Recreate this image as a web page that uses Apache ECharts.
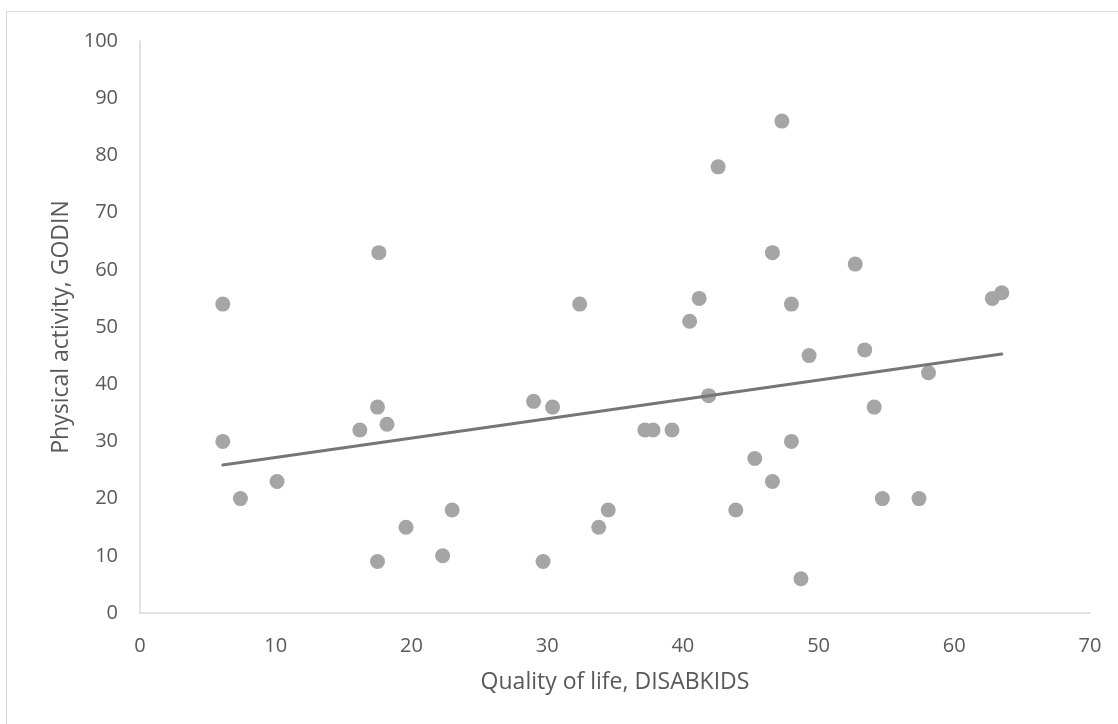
<!DOCTYPE html>
<html>
<head>
<meta charset="utf-8">
<script src="https://cdn.jsdelivr.net/npm/echarts@6/dist/echarts.min.js"></script>
<style>
  html, body { margin: 0; padding: 0; background: #fff; }
  #chart { width: 1118px; height: 724px; }
</style>
</head>
<body>
<div id="chart"></div>
<script>
// quality of life (x) vs physical activity (y)
var qolValues = [6.1, 6.1, 7.4, 10.1, 16.2, 17.5, 18.2, 17.5, 19.6, 23.0, 22.3, 29.0, 30.4, 29.7, 33.8, 34.5, 17.6, 32.4,
                 47.3, 42.6, 46.6, 52.7, 41.2, 48.0, 40.5, 62.8, 63.5, 41.9, 49.3, 53.4, 58.1, 54.1, 37.2, 37.8, 39.2,
                 48.0, 45.3, 46.6, 43.9, 54.7, 57.4, 48.7];
var godinValues = [54, 30, 20, 23, 32, 36, 33, 9, 15, 18, 10, 37, 36, 9, 15, 18, 63, 54,
                   86, 78, 63, 61, 55, 54, 51, 55, 56, 38, 45, 46, 42, 36, 32, 32, 32,
                   30, 27, 23, 18, 20, 20, 6];
var xTicks = [0, 10, 20, 30, 40, 50, 60, 70];
var yTicks = [0, 10, 20, 30, 40, 50, 60, 70, 80, 90, 100];

var points = qolValues.map(function (x, i) { return [x, godinValues[i]]; });

// linear trend line (least squares), from min x to max x like excel does
function trend(xs, ys) {
    var n = xs.length, sx = 0, sy = 0, sxx = 0, sxy = 0;
    for (var i = 0; i < n; i++) {
        sx += xs[i]; sy += ys[i]; sxx += xs[i] * xs[i]; sxy += xs[i] * ys[i];
    }
    var b = (n * sxy - sx * sy) / (n * sxx - sx * sx);
    var a = (sy - b * sx) / n;
    var lo = Math.min.apply(null, xs), hi = Math.max.apply(null, xs);
    return [[lo, a + b * lo], [hi, a + b * hi]];
}

var chart = echarts.init(document.getElementById('chart'));
var labelFont = { color: '#595959', fontSize: 20, fontFamily: 'Open Sans' };
var nameFont = { color: '#595959', fontSize: 23, fontFamily: 'Open Sans' };

var option = {
    animation: false,
    graphic: [{
        type: 'rect',
        shape: { x: 6.5, y: 11.5, width: 1140, height: 740 },
        style: { fill: 'none', stroke: '#d9d9d9', lineWidth: 1 },
        silent: true
    }],
    grid: { left: 140, right: 28, top: 41, bottom: 111 },
    xAxis: {
        type: 'value',
        min: xTicks[0],
        max: xTicks[xTicks.length - 1],
        interval: 10,
        name: 'Quality of life, DISABKIDS',
        nameLocation: 'middle',
        nameGap: 58,
        nameTextStyle: nameFont,
        axisLine: { show: true, lineStyle: { color: '#d9d9d9', width: 1.5 } },
        axisTick: { show: false },
        splitLine: { show: false },
        axisLabel: Object.assign({ margin: 23 }, labelFont)
    },
    yAxis: {
        type: 'value',
        min: yTicks[0],
        max: yTicks[yTicks.length - 1],
        interval: 10,
        name: 'Physical activity, GODIN',
        nameLocation: 'middle',
        nameGap: 67,
        nameTextStyle: nameFont,
        axisLine: { show: true, lineStyle: { color: '#d9d9d9', width: 1.5 } },
        axisTick: { show: false },
        splitLine: { show: false },
        axisLabel: Object.assign({ margin: 22 }, labelFont)
    },
    series: [{
        type: 'scatter',
        data: points,
        symbolSize: 15,
        itemStyle: { color: '#a5a5a5', opacity: 1 },
        z: 2
    }, {
        type: 'line',
        data: trend(qolValues, godinValues),
        showSymbol: false,
        symbol: 'none',
        lineStyle: { color: '#767676', width: 3, cap: 'round' },
        z: 3
    }]
};

chart.setOption(option, true);
</script>
</body>
</html>
